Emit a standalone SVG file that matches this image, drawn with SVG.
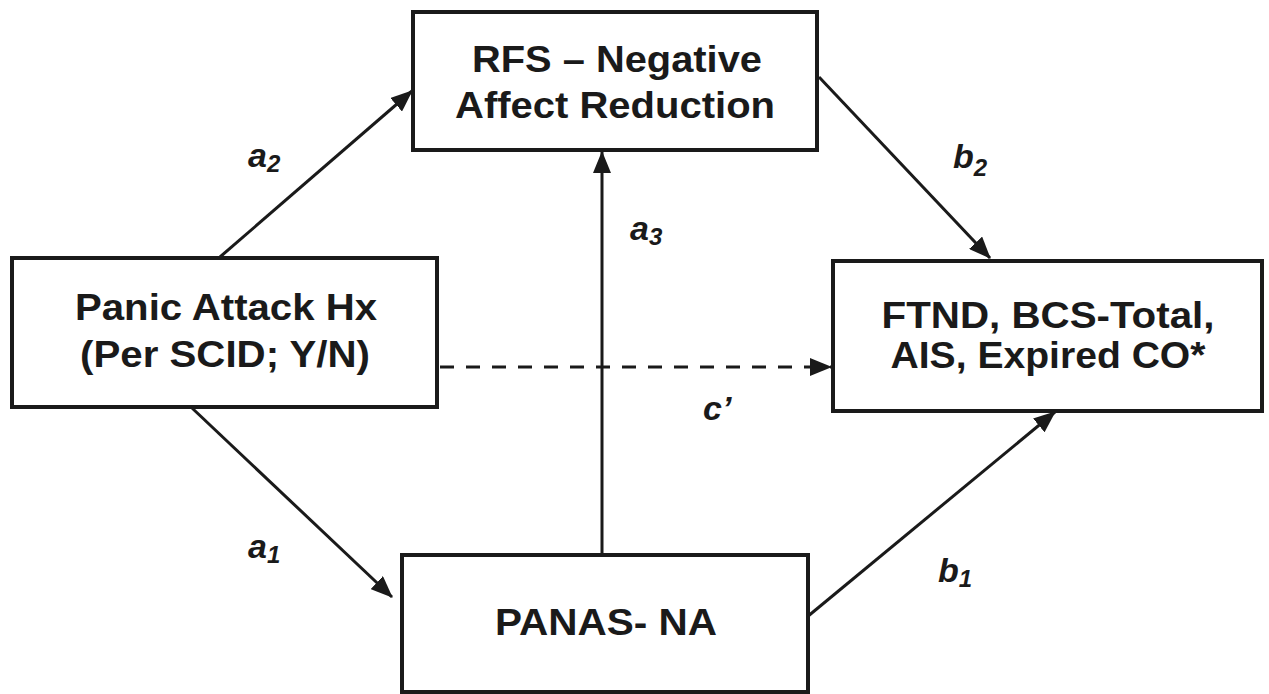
<svg xmlns="http://www.w3.org/2000/svg" width="1269" height="694" viewBox="0 0 1269 694">
<style>
.box{fill:#fff;stroke:#1a1a1a;stroke-width:4}
.t{font-family:"Liberation Sans",Arial,sans-serif;font-weight:bold;font-size:37px;fill:#1a1a1a;text-anchor:middle}
.lbl{font-family:"Liberation Sans",Arial,sans-serif;font-weight:bold;font-style:italic;font-size:34px;fill:#1a1a1a}
.sub{font-size:24px}
.c{stroke:#1a1a1a;stroke-width:3;fill:none;marker-end:url(#ah)}
.d{stroke-dasharray:14 12}
</style>
<defs>
<marker id="ah" markerUnits="userSpaceOnUse" markerWidth="22" markerHeight="18" refX="21" refY="9" orient="auto" viewBox="0 0 22 18">
<path d="M0,0 L22,9 L0,18 Z" fill="#1a1a1a"/>
</marker>
</defs>
<rect width="1269" height="694" fill="#fff"/>
<g id="connectors">
<line class="c" x1="220" y1="257" x2="412" y2="91"/>
<line class="c" x1="819" y1="77" x2="990" y2="258"/>
<line class="c" x1="192" y1="408" x2="392" y2="597"/>
<line class="c" x1="807" y1="617" x2="1055" y2="412"/>
<line class="c" x1="602" y1="555" x2="602" y2="152"/>
<line class="c d" x1="440" y1="367" x2="831" y2="367"/>
</g>
<g id="rfs">
<rect class="box" x="413" y="12" width="404" height="138"/>
<text class="t" x="617" y="72" textLength="290" lengthAdjust="spacingAndGlyphs">RFS – Negative</text>
<text class="t" x="615" y="118" textLength="320" lengthAdjust="spacingAndGlyphs">Affect Reduction</text>
</g>
<g id="panic">
<rect class="box" x="12" y="258" width="425" height="149"/>
<text class="t" x="226" y="320" textLength="302" lengthAdjust="spacingAndGlyphs">Panic Attack Hx</text>
<text class="t" x="225" y="367" textLength="290" lengthAdjust="spacingAndGlyphs">(Per SCID; Y/N)</text>
</g>
<g id="outcomes">
<rect class="box" x="833" y="261" width="429" height="150"/>
<text class="t" x="1048" y="328" textLength="333" lengthAdjust="spacingAndGlyphs">FTND, BCS-Total,</text>
<text class="t" x="1048" y="368" textLength="315" lengthAdjust="spacingAndGlyphs">AIS, Expired CO*</text>
</g>
<g id="panas">
<rect class="box" x="402" y="555" width="406" height="137"/>
<text class="t" x="606" y="635" textLength="222" lengthAdjust="spacingAndGlyphs">PANAS- NA</text>
</g>
<g id="labels">
<text class="lbl" x="248" y="167">a<tspan class="sub" dy="5">2</tspan></text>
<text class="lbl" x="630" y="240">a<tspan class="sub" dy="5">3</tspan></text>
<text class="lbl" x="953" y="168">b<tspan class="sub" dy="8">2</tspan></text>
<text class="lbl" x="703" y="420">c’</text>
<text class="lbl" x="248" y="558">a<tspan class="sub" dy="5">1</tspan></text>
<text class="lbl" x="938" y="582">b<tspan class="sub" dy="5">1</tspan></text>
</g>
</svg>
